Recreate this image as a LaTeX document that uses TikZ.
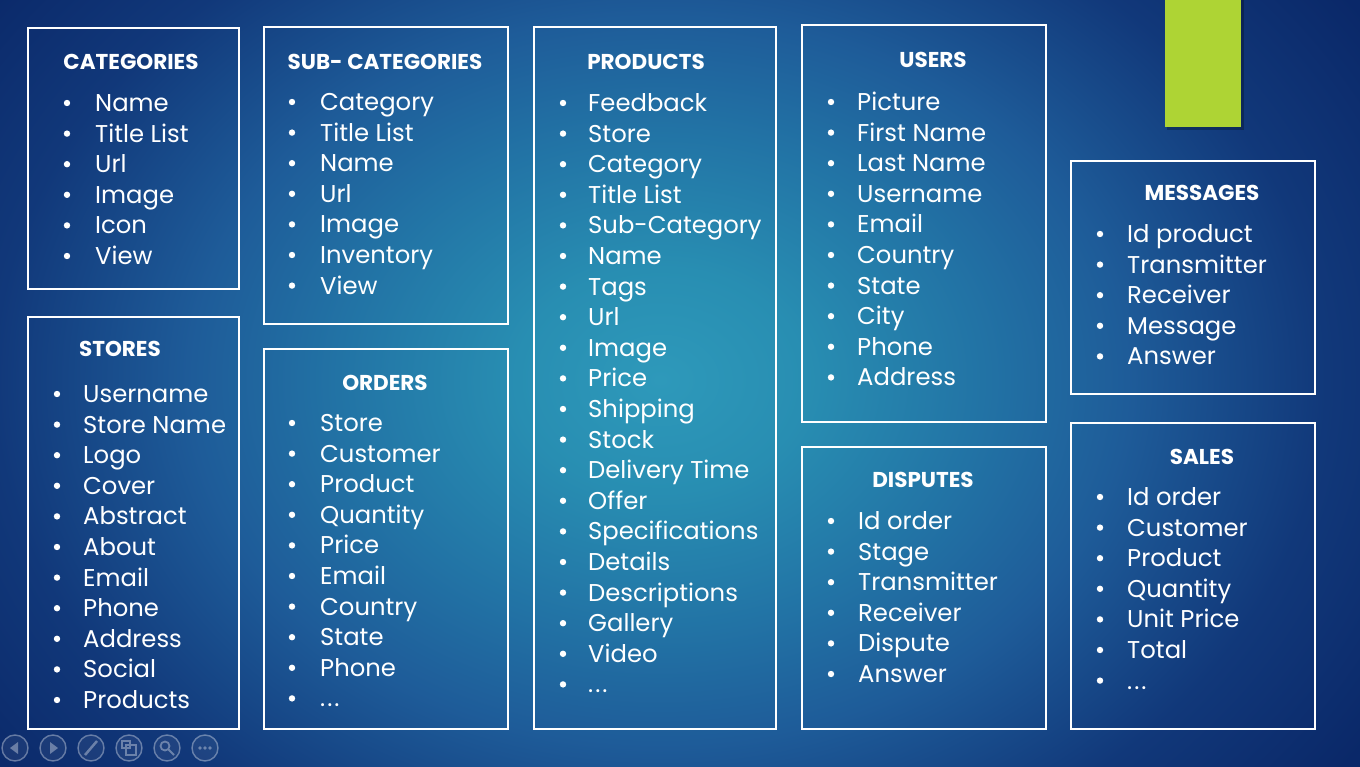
\documentclass[tikz,border=0pt]{standalone}
\usepackage{fontspec}
\setmainfont{Poppins}
\usetikzlibrary{calc}
\pgfdeclareradialshading{slidebg}{\pgfpoint{0bp}{0bp}}{rgb(0bp)=(0.18,0.60,0.73); rgb(4bp)=(0.157,0.557,0.698); rgb(9bp)=(0.133,0.45,0.647); rgb(13bp)=(0.118,0.36,0.60); rgb(18.5bp)=(0.067,0.22,0.478); rgb(23.5bp)=(0.04,0.157,0.41); rgb(50bp)=(0.04,0.157,0.41)}
\definecolor{lime}{RGB}{174,212,52}
\tikzset{
  item/.style={anchor=base west, inner sep=0pt, text=white, font=\fontsize{24.3}{29}\selectfont},
  ttl/.style={anchor=base, inner sep=0pt, text=white, font=\bfseries\fontsize{21.5}{26}\selectfont},
  frame/.style={draw=white, line width=2pt},
  navring/.style={draw=white, draw opacity=0.35, fill=white, fill opacity=0.06, line width=1.4pt},
  navsym/.style={fill=white, fill opacity=0.35, draw=none},
}
\newcommand\boxitems[5]{%
  \foreach \t [count=\i from 0] in {#5} {
    \fill[white] (#2,{#4+30.6*\i}) circle (3.2);
    \node[item] (#1-\i) at (#3,{#4+30.6*\i+8.5}) {\t};
  }}
\newcommand\etc{.\kern2pt.\kern2pt.}
\begin{document}
\begin{tikzpicture}[x=1pt,y=-1pt]
\useasboundingbox (0,0) rectangle (1360,767);
\begin{scope}
\clip (0,0) rectangle (1360,767);
\shade[shading=slidebg] (-240,-320) rectangle (1560,1080);
\end{scope}
% green accent
\fill[black, opacity=0.25] (1167,0) rectangle (1244,130);
\fill[lime] (1165,0) rectangle (1241,127);
% CATEGORIES
\draw[frame] (28,28) rectangle (239,289);
\node[ttl] (cat) at (131,70) {CATEGORIES};
\boxitems{cat}{67}{95}{103}{Name,Title List,Url,Image,Icon,View}
% SUB-CATEGORIES
\draw[frame] (264,27) rectangle (508,324);
\node[ttl] (sub) at (385,70) {SUB- CATEGORIES};
\boxitems{sub}{292}{320}{102}{Category,Title List,Name,Url,Image,Inventory,View}
% PRODUCTS
\draw[frame] (534,27) rectangle (776,729);
\node[ttl] (prod) at (646,70) {PRODUCTS};
\boxitems{prod}{563}{588}{103}{Feedback,Store,Category,Title List,Sub-Category,Name,Tags,Url,Image,Price,Shipping,Stock,Delivery Time,Offer,Specifications,Details,Descriptions,Gallery,Video,\etc}
% USERS
\draw[frame] (802,25) rectangle (1046,422);
\node[ttl] (usr) at (933,68) {USERS};
\boxitems{usr}{831}{857}{102}{Picture,First Name,Last Name,Username,Email,Country,State,City,Phone,Address}
% MESSAGES
\draw[frame] (1071,161) rectangle (1315,394);
\node[ttl] (msg) at (1202,201) {MESSAGES};
\boxitems{msg}{1100}{1127}{234}{Id product,Transmitter,Receiver,Message,Answer}
% STORES
\draw[frame] (28,317) rectangle (239,729);
\node[ttl] (sto) at (120,356) {STORES};
\boxitems{sto}{57}{83}{394}{Username,Store Name,Logo,Cover,Abstract,About,Email,Phone,Address,Social,Products}
% ORDERS
\draw[frame] (264,349) rectangle (508,729);
\node[ttl] (ord) at (385,390) {ORDERS};
\boxitems{ord}{292}{320}{423}{Store,Customer,Product,Quantity,Price,Email,Country,State,Phone,\etc}
% DISPUTES
\draw[frame] (802,447) rectangle (1046,729);
\node[ttl] (dis) at (923,487) {DISPUTES};
\boxitems{dis}{831}{858}{521}{Id order,Stage,Transmitter,Receiver,Dispute,Answer}
% SALES
\draw[frame] (1071,423) rectangle (1315,729);
\node[ttl] (sal) at (1202,464) {SALES};
\boxitems{sal}{1100}{1127}{497}{Id order,Customer,Product,Quantity,Unit Price,Total,\etc}
% slide-show navigation buttons
\foreach \cx in {15,53,91,129,167,205} { \draw[navring] (\cx,748) circle (13); }
\fill[navsym] (10,748) -- (18,742) -- (18,754) -- cycle;
\fill[navsym] (58,748) -- (50,742) -- (50,754) -- cycle;
\draw[white, opacity=0.35, line width=2.5pt] (85,755) -- (97,741);
\draw[white, opacity=0.35, line width=1.2pt] (122,741) rectangle (130,748) (126,745) rectangle (136,755);
\draw[white, opacity=0.35, line width=1.8pt] (165,746) circle (4.5) (168.5,749.5) -- (174,755);
\foreach \dx in {-5,0,5} { \fill[navsym] ({205+\dx},748) circle (1.8); }
\end{tikzpicture}
\end{document}
